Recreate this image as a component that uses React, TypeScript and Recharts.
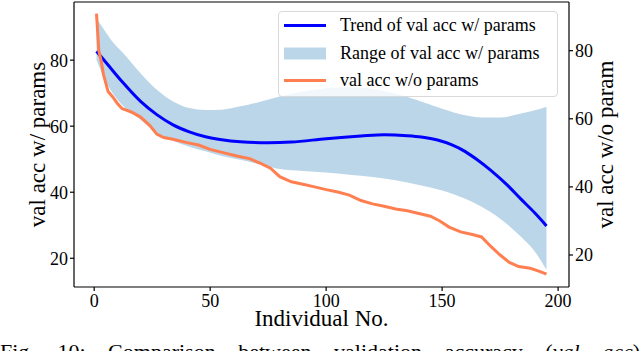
import React from "react";
import {
  ComposedChart,
  Line,
  Area,
  XAxis,
  YAxis,
  ReferenceLine,
} from "recharts";

const serif = '"Liberation Serif", "Times New Roman", serif';

// trend of val acc w/ params (left axis)
const trendIdx = [1, 6, 12, 20, 27, 34, 41, 48, 55, 63, 75, 85, 100, 115, 125, 135, 141, 148, 154, 160, 165, 171, 178, 184, 190, 195];
const trendAcc = [82.7, 78.5, 73.5, 67.5, 63.5, 60.4, 58.3, 56.8, 55.9, 55.3, 55, 55.2, 56.2, 57, 57.4, 57.1, 56.7, 55.8, 54.4, 52.3, 49.9, 46.6, 42.2, 37.9, 33.7, 29.8];

// range of val acc w/ params (left axis)
const bandIdx = [1, 4, 8, 12, 20, 27, 34, 41, 48, 55, 63, 72, 80, 90, 100, 110, 120, 130, 140, 150, 160, 167, 175, 184, 190, 195];
const bandLow = [80, 75, 70, 66.5, 62, 58, 55.6, 53.8, 52.4, 51, 49.8, 48.3, 47, 46.4, 46, 45.3, 44.6, 43.6, 42.2, 40.5, 38, 35.6, 32, 26.5, 22, 16.5];
const bandHigh = [92.7, 89.5, 85.5, 82.5, 76, 71, 67.5, 65.5, 64.9, 65, 66, 67.5, 69, 70.5, 71.5, 71.8, 71.3, 69.8, 67.7, 65.3, 63.3, 62.6, 62.6, 63.8, 64.8, 65.9];

// val acc w/o params (right axis)
const noParamIdx = [1, 2, 3, 4, 6, 8, 10, 12, 16, 20, 24, 27, 30, 34, 40, 45, 50, 56, 62, 67, 72, 76, 80, 85, 90, 95, 100, 105, 110, 115, 120, 125, 130, 135, 140, 145, 149, 153, 158, 163, 167, 171, 175, 179, 183, 188, 192, 195];
const noParamAcc = [90.9, 80, 77, 73, 68, 66.4, 64.5, 63, 62, 60.5, 58, 55.5, 54.5, 54, 53, 52.3, 51, 50, 49, 48.3, 46.8, 45.5, 43, 41.5, 40.8, 40, 39.2, 38.5, 37.6, 36, 35, 34.3, 33.5, 33, 32.2, 31.4, 30, 28.2, 26.8, 26, 25.3, 22.5, 20, 17.8, 16.6, 16.1, 15.2, 14.4];

const xTicks = [0, 50, 100, 150, 200];
const yTicks = [20, 40, 60, 80];

const trendData = trendIdx.map((x, i) => ({ x, acc: trendAcc[i] }));
const bandData = bandIdx.map((x, i) => ({ x, range: [bandLow[i], bandHigh[i]] }));
const noParamData = noParamIdx.map((x, i) => ({ x, acc: noParamAcc[i] }));

// serif tick labels (recharts' default tick text ignores the font otherwise)
const SerifTick = ({ x, y, payload, textAnchor, dy }: any) => (
  <text
    x={x}
    y={y}
    dy={dy}
    textAnchor={textAnchor}
    fill="#000"
    fontSize={18}
    fontFamily={serif}
    style={{ fontFamily: serif }}
  >
    {payload.value}
  </text>
);

const XTick = (props: any) => <SerifTick {...props} dy="0.71em" />;
const YTick = (props: any) => <SerifTick {...props} dy="0.36em" />;

const labelStyle = { fill: "#000", fontSize: 23, fontFamily: serif };

const LegendBox = () => {
  const row: React.CSSProperties = {
    position: "absolute",
    left: 0,
    height: 27,
    display: "flex",
    alignItems: "center",
  };
  return (
    <div
      style={{
        position: "absolute",
        left: 278,
        top: 11,
        width: 280,
        height: 86,
        boxSizing: "border-box",
        background: "rgba(255,255,255,0.8)",
        border: "1px solid #d9d9d9",
        borderRadius: 4,
        fontFamily: serif,
        fontSize: 18,
        color: "#000",
      }}
    >
      <div style={{ ...row, top: 0 }}>
        <svg width={61} height={27}>
          <line x1={5} x2={47} y1={13.5} y2={13.5} stroke="#0000ff" strokeWidth={3} />
        </svg>
        <span>Trend of val acc w/ params</span>
      </div>
      <div style={{ ...row, top: 27.5 }}>
        <svg width={61} height={27}>
          <rect x={5} y={7.5} width={42} height={12} fill="#1f77b4" fillOpacity={0.3} />
        </svg>
        <span>Range of val acc w/ params</span>
      </div>
      <div style={{ ...row, top: 55 }}>
        <svg width={61} height={27}>
          <line x1={5} x2={47} y1={13.5} y2={13.5} stroke="#ff7f50" strokeWidth={3} />
        </svg>
        <span>val acc w/o params</span>
      </div>
    </div>
  );
};

export default function App() {
  return (
    <div
      style={{
        position: "absolute",
        left: 0,
        top: 0,
        width: 640,
        height: 351,
        overflow: "hidden",
        background: "#fff",
        fontFamily: serif,
      }}
    >
      <ComposedChart
        width={640}
        height={351}
        margin={{ top: 2, right: 0, bottom: 0, left: 0 }}
      >
        <XAxis
          dataKey="x"
          type="number"
          domain={[-8.7, 204.7]}
          ticks={xTicks}
          allowDataOverflow
          height={64}
          tickSize={4}
          tickMargin={3}
          stroke="#000"
          strokeWidth={1.2}
          tick={XTick}
          label={{
            value: "Individual No.",
            position: "insideBottom",
            offset: 25,
            ...labelStyle,
          }}
        />
        <YAxis
          yAxisId="left"
          type="number"
          domain={[11.3, 97.6]}
          ticks={yTicks}
          allowDataOverflow
          width={74}
          tickSize={4}
          tickMargin={2}
          stroke="#000"
          strokeWidth={1.2}
          tick={YTick}
          label={{
            value: "val acc w/ params",
            angle: -90,
            position: "center",
            ...labelStyle,
          }}
        />
        <YAxis
          yAxisId="right"
          orientation="right"
          type="number"
          domain={[10.6, 94.3]}
          ticks={yTicks}
          allowDataOverflow
          width={71}
          tickSize={4}
          tickMargin={2}
          stroke="#000"
          strokeWidth={1.2}
          tick={YTick}
          label={{
            value: "val acc w/o param",
            angle: -90,
            position: "center",
            ...labelStyle,
          }}
        />
        <ReferenceLine yAxisId="left" y={97.6} stroke="#000" strokeWidth={1.2} />
        <Area
          yAxisId="left"
          data={bandData}
          dataKey="range"
          type="monotone"
          fill="#1f77b4"
          fillOpacity={0.3}
          stroke="none"
          isAnimationActive={false}
        />
        <Line
          yAxisId="left"
          data={trendData}
          dataKey="acc"
          type="monotone"
          stroke="#0000ff"
          strokeWidth={3}
          dot={false}
          isAnimationActive={false}
        />
        <Line
          yAxisId="right"
          data={noParamData}
          dataKey="acc"
          type="linear"
          stroke="#ff7f50"
          strokeWidth={3}
          dot={false}
          isAnimationActive={false}
        />
      </ComposedChart>
      <LegendBox />
      <div
        style={{
          position: "absolute",
          left: 0,
          top: 341,
          width: 640,
          fontFamily: serif,
          fontSize: 22,
          lineHeight: "22px",
          textAlign: "justify",
          textAlignLast: "justify",
          whiteSpace: "nowrap",
        }}
      >
        Fig. 10: Comparison between validation accuracy (<i>val acc</i>)
      </div>
    </div>
  );
}
